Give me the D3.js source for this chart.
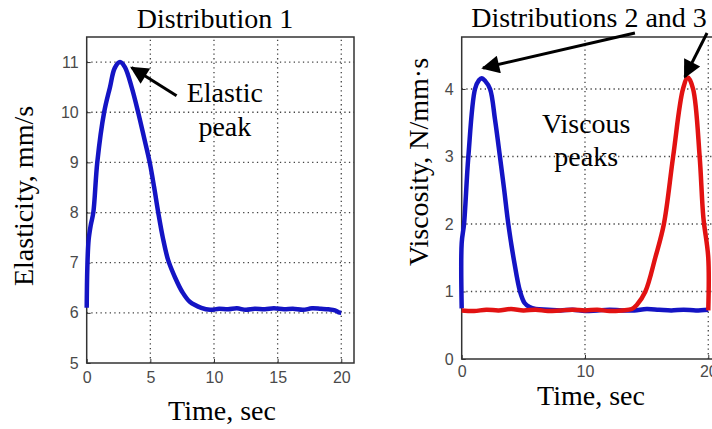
<!DOCTYPE html>
<html>
<head>
<meta charset="utf-8">
<script src="https://cdn.jsdelivr.net/npm/d3@7"></script>
<style>
  body { margin: 0; background: #fff; }
  svg { display: block; }
  .tick text { font-family: "Liberation Sans", Arial, sans-serif; font-size: 16px; fill: #4a4a4a; }
  .lbl { font-family: "Liberation Serif", "Times New Roman", serif; font-size: 28px; fill: #000; }
</style>
</head>
<body>
<svg id="chart" width="712" height="429"></svg>
<script>
// Distribution 1 : elasticity (mm/s) over time (sec)
var elasTime = [0, 0.05, 0.15, 0.32, 0.52, 0.83, 1.37, 1.83, 2.2, 2.62, 3.0, 3.53, 4.04, 4.5, 4.95, 5.3, 5.62, 5.98, 6.4, 6.95, 7.5, 8.1, 9.0, 9.7,
                10.4, 11.1, 11.8, 12.5, 13.2, 14, 14.7, 15.5, 16.2, 17, 17.7, 18.4, 19.0, 19.5, 19.8, 20];
var elasVal  = [6.1, 6.9, 7.45, 7.75, 8.0, 9.0, 10.0, 10.5, 10.88, 11.0, 10.9, 10.5, 10.0, 9.5, 9.0, 8.5, 8.0, 7.5, 7.05, 6.7, 6.42, 6.22, 6.1, 6.06,
                6.08, 6.07, 6.09, 6.06, 6.08, 6.07, 6.09, 6.07, 6.08, 6.06, 6.09, 6.08, 6.07, 6.05, 6.01, 6.0];

// Distributions 2 and 3 : viscosity (N/mm·s) over time (sec)
var viscTime2 = [0, 0, 0.19, 0.54, 1.08, 1.4, 1.62, 1.9, 2.3, 2.7, 3.1, 3.45, 3.78, 4.25, 4.73, 5.1, 5.5, 6.0,
                 7, 8, 9, 10, 11, 12, 13, 14, 15, 16, 17, 18, 19, 20];
var viscVal2  = [0.75, 1.72, 2.0, 3.0, 4.0, 4.13, 4.16, 4.12, 4.0, 3.55, 3.0, 2.5, 2.0, 1.45, 1.0, 0.83, 0.77, 0.74,
                 0.73, 0.72, 0.73, 0.71, 0.72, 0.73, 0.72, 0.72, 0.74, 0.73, 0.72, 0.73, 0.72, 0.73];
var viscTime3 = [0, 1, 2, 3, 4, 5, 6, 7, 8, 9, 10, 11, 12, 13, 13.8, 14.2, 14.9, 15.7, 16.4, 17.15, 17.95, 18.35, 18.77, 19.3, 19.6, 20, 20];
var viscVal3  = [0.72, 0.71, 0.73, 0.72, 0.74, 0.72, 0.73, 0.71, 0.72, 0.73, 0.72, 0.73, 0.71, 0.72, 0.74, 0.8, 1.0, 1.5, 2.0, 3.0, 4.0, 4.17, 4.0, 3.0, 2.1, 1.5, 0.72];

var elasTicksX = [0, 5, 10, 15, 20], elasTicksY = [5, 6, 7, 8, 9, 10, 11];
var viscTicksX = [0, 10, 20], viscTicksY = [0, 1, 2, 3, 4];

var blue = "#1414c4", red = "#e21212";

var svg = d3.select("#chart");

svg.append("defs").append("marker")
    .attr("id", "head")
    .attr("viewBox", "0 0 10 10")
    .attr("refX", 9).attr("refY", 5)
    .attr("markerWidth", 7).attr("markerHeight", 6)
    .attr("markerUnits", "strokeWidth")
    .attr("orient", "auto")
  .append("path")
    .attr("d", "M0,0 L10,5 L0,10 Z")
    .attr("fill", "#000");

function panel(opt) {
  var x = d3.scaleLinear().domain(opt.xdom).range([opt.left, opt.right]);
  var y = d3.scaleLinear().domain(opt.ydom).range([opt.bottom, opt.top]);
  var g = svg.append("g");

  // dotted grid
  g.selectAll(".gx").data(opt.ticksX.filter(function(d) { return d > opt.xdom[0]; }))
    .enter().append("line")
    .attr("x1", function(d) { return x(d); }).attr("x2", function(d) { return x(d); })
    .attr("y1", opt.bottom).attr("y2", opt.top)
    .attr("stroke", "#444").attr("stroke-width", 1.3).attr("stroke-dasharray", "1.3,3.3");
  g.selectAll(".gy").data(opt.ticksY.filter(function(d) { return d > opt.ydom[0]; }))
    .enter().append("line")
    .attr("x1", opt.left).attr("x2", opt.right)
    .attr("y1", function(d) { return y(d); }).attr("y2", function(d) { return y(d); })
    .attr("stroke", "#444").attr("stroke-width", 1.3).attr("stroke-dasharray", "1.3,3.3");

  // axes
  var ax = g.append("g").attr("transform", "translate(0," + opt.bottom + ")")
    .call(d3.axisBottom(x).tickValues(opt.ticksX).tickFormat(d3.format("d")).tickSize(-4).tickPadding(opt.padX));
  var ay = g.append("g").attr("transform", "translate(" + opt.left + ",0)")
    .call(d3.axisLeft(y).tickValues(opt.ticksY).tickFormat(d3.format("d")).tickSize(-4).tickPadding(8));
  [ax, ay].forEach(function(a) {
    a.select(".domain").remove();
    a.selectAll(".tick line").attr("stroke", "#333");
  });

  // box
  g.append("rect")
    .attr("x", opt.left).attr("y", opt.top)
    .attr("width", opt.right - opt.left).attr("height", opt.bottom - opt.top)
    .attr("fill", "none").attr("stroke", "#333").attr("stroke-width", 1.5);

  var line = d3.line()
    .x(function(d) { return x(d[0]); })
    .y(function(d) { return y(d[1]); })
    .curve(d3.curveCatmullRom.alpha(0.5));

  opt.series.forEach(function(s) {
    g.append("path")
      .attr("d", line(d3.zip(s.t, s.v)))
      .attr("fill", "none").attr("stroke", s.color)
      .attr("stroke-width", 4.5).attr("stroke-linejoin", "round");
  });

  return { x: x, y: y, g: g };
}

// left panel
var p1 = panel({ left: 86.7, right: 354, top: 37, bottom: 363, xdom: [0, 21], ydom: [5, 11.5],
                 ticksX: elasTicksX, ticksY: elasTicksY, padX: 9,
                 series: [{ t: elasTime, v: elasVal, color: blue }] });

// right panel
var p2 = panel({ left: 461.7, right: 720.6, top: 37, bottom: 359, xdom: [0, 21], ydom: [0, 4.77],
                 ticksX: viscTicksX, ticksY: viscTicksY, padX: 7,
                 series: [{ t: viscTime2, v: viscVal2, color: blue }, { t: viscTime3, v: viscVal3, color: red }] });

// titles and axis labels
svg.append("text").attr("class", "lbl").attr("x", 215).attr("y", 28).attr("text-anchor", "middle").text("Distribution 1");
svg.append("text").attr("class", "lbl").attr("x", 589).attr("y", 27).attr("text-anchor", "middle").text("Distributions 2 and 3");
svg.append("text").attr("class", "lbl").attr("x", 222).attr("y", 420).attr("text-anchor", "middle").text("Time, sec");
svg.append("text").attr("class", "lbl").attr("x", 591).attr("y", 405).attr("text-anchor", "middle").text("Time, sec");
svg.append("text").attr("class", "lbl").attr("text-anchor", "middle")
  .attr("transform", "translate(33,196) rotate(-90)").text("Elasticity, mm/s");
svg.append("text").attr("class", "lbl").attr("text-anchor", "middle")
  .attr("transform", "translate(428,162) rotate(-90)").text("Viscosity, N/mm·s");

// annotations
function arrow(p, from, to) {
  svg.append("line")
    .attr("x1", p.x(from[0])).attr("y1", p.y(from[1]))
    .attr("x2", p.x(to[0])).attr("y2", p.y(to[1]))
    .attr("stroke", "#000").attr("stroke-width", 3)
    .attr("marker-end", "url(#head)");
}
arrow(p1, [7.06, 10.33], [3.53, 10.89]);
arrow(p2, [14.05, 4.83], [1.73, 4.31]);
arrow(p2, [19.9, 4.83], [18.1, 4.18]);

svg.append("text").attr("class", "lbl").attr("x", p1.x(10.85)).attr("y", p1.y(10.2)).attr("text-anchor", "middle").text("Elastic");
svg.append("text").attr("class", "lbl").attr("x", p1.x(10.85)).attr("y", p1.y(9.52)).attr("text-anchor", "middle").text("peak");
svg.append("text").attr("class", "lbl").attr("x", p2.x(10.1)).attr("y", p2.y(3.35)).attr("text-anchor", "middle").text("Viscous");
svg.append("text").attr("class", "lbl").attr("x", p2.x(10.1)).attr("y", p2.y(2.86)).attr("text-anchor", "middle").text("peaks");
</script>
</body>
</html>
